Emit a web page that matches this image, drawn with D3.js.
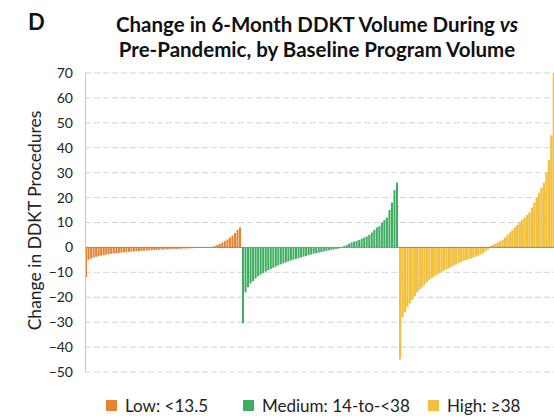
<!DOCTYPE html>
<html>
<head>
<meta charset="utf-8">
<script src="https://cdn.jsdelivr.net/npm/d3@7"></script>
<style>
  body { margin: 0; background: #fff; }
  text { font-family: Lato, "Open Sans", sans-serif; }
</style>
</head>
<body>
<div id="chart"></div>
<script>
// change in DDKT volume per program, sorted, by baseline volume group
var lowValues = [-12, -5, -4.5, -4.1, -3.8, -3.5, -3.3, -3.1, -2.9, -2.7, -2.6, -2.4, -2.3, -2.2, -2.1, -2, -1.9, -1.8, -1.7, -1.6,
  -1.5, -1.45, -1.4, -1.3, -1.25, -1.2, -1.1, -1.05, -1, -0.95, -0.9, -0.85, -0.8, -0.75, -0.7, -0.65, -0.6, -0.55, -0.5, -0.45,
  -0.4, -0.35, -0.3, -0.25, -0.2, -0.18, -0.15, -0.12, -0.1, -0.05, 0.2, 0.6, 1, 1.5, 2, 2.6, 3.2, 4, 4.8, 5.8, 7, 8];
var mediumValues = [-30.5, -18, -16, -14.5, -13.5, -12.5, -11.6, -10.9, -10.3, -9.7, -9.2, -8.7, -8.2, -7.7, -7.2, -6.8, -6.4, -6, -5.6, -5.2,
  -4.9, -4.6, -4.3, -4, -3.7, -3.4, -3.1, -2.8, -2.5, -2.3, -2.1, -1.9, -1.6, -1.4, -1.2, -1, -0.8, -0.6, -0.4, -0.2,
  0.5, 1, 1.5, 2, 2.3, 2.6, 3, 3.5, 4, 4.4, 5, 6, 7, 8, 8.5, 10, 11, 12, 15, 18, 23, 26];
var highValues = [-45, -28, -26, -24, -22.5, -21, -19.5, -18, -17, -16, -15, -14, -13, -12.3, -11.6, -11, -10.4, -9.8, -9.3, -8.8,
  -8.3, -7.8, -7.3, -6.8, -6.3, -5.8, -5.4, -5.1, -4.8, -4.5, -4.1, -3.7, -3.3, -2.8, -2.3, -1.6, -0.8,
  0.5, 1, 1.5, 2, 2.5, 3, 4, 5, 6, 7, 8, 9, 10, 11, 12, 13, 14, 16, 18, 20, 22, 24, 26, 30, 35, 45, 70];

var groupNames = ["Low", "Medium", "High"];
var groupLabels = ["Low: <13.5", "Medium: 14-to-<38", "High: \u226538"];
var groupColors = ["#e6832f", "#3fae62", "#f0c03e"];
var groupValues = [lowValues, mediumValues, highValues];
var yTicks = [70, 60, 50, 40, 30, 20, 10, 0, -10, -20, -30, -40, -50];

var width = 554, height = 416;
var margin = { top: 73, left: 85, right: -1, bottom: 44 };

var svg = d3.select("#chart").append("svg")
  .attr("width", width)
  .attr("height", height);

var y = d3.scaleLinear().domain([-50, 70]).range([height - margin.bottom, margin.top]);

var xGroup = d3.scaleBand()
  .domain(groupNames)
  .range([margin.left, width - margin.right])
  .paddingInner(0.006);

// gridlines
svg.append("g")
  .selectAll("line")
  .data(yTicks.filter(function(d) { return d !== 0; }))
  .enter().append("line")
  .attr("x1", margin.left)
  .attr("x2", width)
  .attr("y1", function(d) { return y(d); })
  .attr("y2", function(d) { return y(d); })
  .attr("stroke", "#c8c8c8")
  .attr("stroke-width", 0.8)
  .attr("stroke-dasharray", "6,3");

// bars
groupNames.forEach(function(name, gi) {
  var vals = groupValues[gi];
  var x = d3.scaleBand()
    .domain(d3.range(vals.length))
    .range([xGroup(name), xGroup(name) + xGroup.bandwidth()])
    .paddingInner(gi === 2 ? 0.05 : 0.2);

  svg.append("g")
    .selectAll("rect")
    .data(vals)
    .enter().append("rect")
    .attr("x", function(d, i) { return x(i); })
    .attr("width", x.bandwidth())
    .attr("y", function(d) { return y(Math.max(0, d)); })
    .attr("height", function(d) { return Math.abs(y(d) - y(0)); })
    .attr("fill", groupColors[gi]);
});

// zero line
svg.append("line")
  .attr("x1", margin.left)
  .attr("x2", width)
  .attr("y1", y(0))
  .attr("y2", y(0))
  .attr("stroke", "#8a8a8a")
  .attr("stroke-width", 1);

// y axis
var yAxis = d3.axisLeft(y).tickValues(yTicks).tickSize(0).tickPadding(12);
var yg = svg.append("g")
  .attr("transform", "translate(" + margin.left + ",0)")
  .call(yAxis);
yg.select(".domain").attr("stroke", "#c8c8c8");
yg.selectAll("text")
  .style("font-size", "14px")
  .style("font-family", "Lato, sans-serif")
  .attr("fill", "#222");

svg.append("text")
  .attr("transform", "translate(41," + ((y(70) + y(-50)) / 2 - 2) + ") rotate(-90)")
  .attr("text-anchor", "middle")
  .style("font-size", "17.5px")
  .attr("fill", "#222")
  .text("Change in DDKT Procedures");

// panel letter and title
svg.append("text")
  .attr("x", 28)
  .attr("y", 30)
  .style("font-size", "22px")
  .style("font-weight", "bold")
  .attr("fill", "#111")
  .text("D");

var title = svg.append("text")
  .attr("text-anchor", "middle")
  .style("font-size", "20.5px")
  .style("font-weight", "bold")
  .attr("fill", "#111");
var t1 = title.append("tspan").attr("x", 317).attr("y", 32);
t1.append("tspan").text("Change in 6-Month DDKT Volume During ");
t1.append("tspan").style("font-style", "italic").text("vs");
title.append("tspan").attr("x", 317).attr("y", 57).text("Pre-Pandemic, by Baseline Program Volume");

// legend
var legendX = [106, 243, 428];
var legend = svg.append("g")
  .selectAll("g")
  .data(groupNames)
  .enter().append("g")
  .attr("transform", function(d, i) { return "translate(" + legendX[i] + ",400)"; });
legend.append("rect")
  .attr("width", 11)
  .attr("height", 11)
  .attr("fill", function(d, i) { return groupColors[i]; });
legend.append("text")
  .attr("x", 19)
  .attr("y", 12)
  .style("font-size", "17px")
  .attr("fill", "#222")
  .text(function(d, i) { return groupLabels[i]; });
</script>
</body>
</html>
